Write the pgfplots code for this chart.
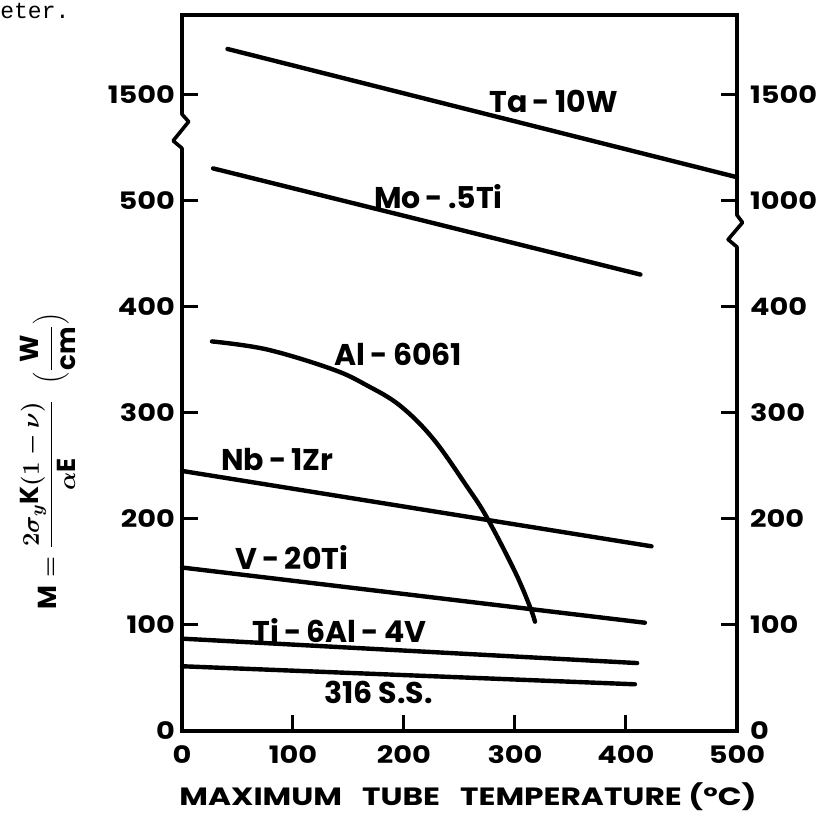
\documentclass[border=0pt]{standalone}
\usepackage{fontspec}
\setmainfont{Poppins}
\newfontfamily\tickfont{Poppins}[FakeStretch=1.2]
\newfontfamily\titlefont{Poppins}[FakeStretch=1.25]
\newfontfamily\typewriter{Liberation Mono}
\usepackage{pgfplots}
\pgfplotsset{compat=1.18}
\usetikzlibrary{calc}
\begin{document}
\begin{tikzpicture}
\pgfplotsset{
  common/.style={
    at={(0,0)}, anchor=south west, scale only axis,
    width=277.5pt, height=358pt,
    xmin=0, xmax=500, ymin=0, ymax=674.5,
    axis line style={line width=1.8pt, line cap=round},
    tick style={line width=1.5pt, black},
    major tick length=8pt, tick align=inside,
    ticklabel style={font=\tickfont\bfseries\fontsize{12}{12}\selectfont},
    clip=false,
  },
  curve/.style={black, line width=2.2pt, line cap=round, mark=none, solid},
}
\begin{axis}[common, name=ax,
  xtick={0,100,200,300,400,500}, xtick pos=bottom,
  xticklabels={0,100,200,300,400,500},
  ytick={0,100,200,300,400,500,600},
  yticklabels={0,100,200,300,400,500,1500},
  ytick pos=left,
  xticklabel style={yshift=-4pt},
]
% Ta-10W
\addplot[curve] coordinates {(41,642.5) (500,521.7)};
% Mo-.5Ti
\addplot[curve] coordinates {(28,530) (413,430)};
% Al-6061
\addplot[curve, smooth, tension=0.6] coordinates {(27,367) (76.6,359.4) (136,340.6) (166.7,325.5) (196.4,306.5) (226.1,275.5) (256.8,230.2) (274.8,200.9) (300,150) (313.5,117) (318,103)};
% Nb-1Zr
\addplot[curve] coordinates {(0,245) (423,174)};
% V-20Ti
\addplot[curve] coordinates {(0,154) (417,102)};
% Ti-6Al-4V
\addplot[curve] coordinates {(0,87) (410,64)};
% 316 S.S.
\addplot[curve] coordinates {(0,61) (408,44)};

\begin{scope}[font=\bfseries\fontsize{15}{15}\selectfont]
\node at (axis cs:335,593) {Ta\,-\,10W};
\node at (axis cs:231,503) {Mo\,-\,.5Ti};
\node at (axis cs:195,355) {Al\,-\,6061};
\node at (axis cs:86,256) {Nb\,-\,1Zr};
\node at (axis cs:99,163) {V\,-\,20Ti};
\node at (axis cs:142,95) {Ti\,-\,6Al\,-\,4V};
\node at (axis cs:177,36) {316 S.S.};
\end{scope}

\coordinate (lb0) at (axis cs:0,586);
\coordinate (lb1) at (axis cs:0,581);
\coordinate (lb2) at (axis cs:6,574);
\coordinate (lb3) at (axis cs:-8,556);
\coordinate (lb4) at (axis cs:0,549);
\coordinate (lb5) at (axis cs:0,544);
\coordinate (rb0) at (axis cs:500,490);
\coordinate (rb1) at (axis cs:500,486);
\coordinate (rb2) at (axis cs:505,479);
\coordinate (rb3) at (axis cs:492,463);
\coordinate (rb4) at (axis cs:500,456);
\coordinate (rb5) at (axis cs:500,452);
\end{axis}

\begin{axis}[common,
  axis x line=none, axis y line*=right,
  ytick={0,100,200,300,400,500,600},
  yticklabels={0,100,200,300,400,1000,1500},
  yticklabel style={xshift=3pt},
]
\addplot[draw=none] coordinates {(0,0)};
\end{axis}

% axis breaks
\draw[white, line width=5pt] (lb1) -- (lb4);
\draw[line width=1.8pt, line join=round] (lb0) -- (lb1) -- (lb2) -- (lb3) -- (lb4) -- (lb5);
\draw[white, line width=5pt] (rb1) -- (rb4);
\draw[line width=1.8pt, line join=round] (rb0) -- (rb1) -- (rb2) -- (rb3) -- (rb4) -- (rb5);

% axis titles
\node[font=\titlefont\bfseries\fontsize{12.5}{12.5}\selectfont] at ($(ax.south west)+(143pt,-33pt)$)
  {MAXIMUM\hspace{0.8em}TUBE\hspace{0.8em}TEMPERATURE (°C)};
\node[rotate=90, font=\bfseries\fontsize{13}{13}\selectfont, inner sep=1pt] at ($(ax.south west)+(-67pt,135pt)$)
  {{\boldmath $\mathrm{M} = {\displaystyle\frac{2\sigma_{y}\mathrm{K}(1-\nu)}{\alpha\mathrm{E}}}\;\;\Bigl({\displaystyle\frac{\mathrm{W}}{\mathrm{cm}}}\Bigr)$}};
\node[anchor=west, font=\typewriter\fontsize{11.5}{11.5}\selectfont, inner sep=0pt] at ($(ax.south west)+(-91pt,360pt)$) {eter.};

\pgfresetboundingbox
\path[use as bounding box] ($(ax.south west)+(-91pt,-41.5pt)$) rectangle ($(ax.south west)+(321.5pt,365.5pt)$);
\end{tikzpicture}
\end{document}
